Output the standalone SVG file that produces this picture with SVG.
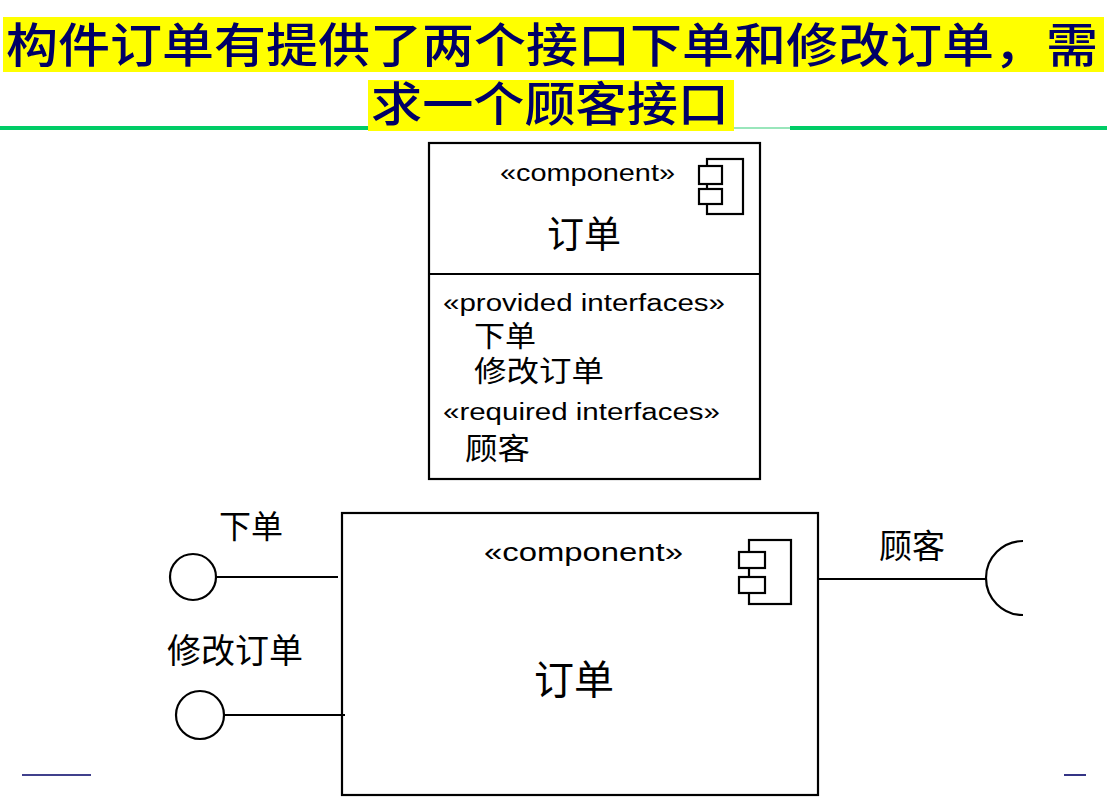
<svg xmlns="http://www.w3.org/2000/svg" width="1107" height="808" viewBox="0 0 1107 808">
<style>
.title{font-family:"Noto Sans CJK SC","Noto Sans CJK TC",sans-serif;font-size:47px;font-weight:500;fill:#000066}
.box{fill:#ffffff;stroke:#000000;stroke-width:2.2}
.ln{stroke:#000000;stroke-width:2.2;fill:none}
.en{font-family:"Liberation Sans",Arial,sans-serif;fill:#000000}
.cn{font-family:"Noto Sans CJK SC","Noto Sans CJK TC",sans-serif;fill:#000000}
.navy{stroke:#000066;stroke-width:1.6}
</style>
<rect width="1107" height="808" fill="#ffffff"/>
<g id="title">
<rect x="3" y="17" width="1101" height="55" fill="#ffff00"/>
<rect x="368" y="80" width="366" height="51" fill="#ffff00"/>
<line x1="0" y1="128" x2="368" y2="128" stroke="#00cc66" stroke-width="4"/>
<line x1="734" y1="128" x2="790" y2="128" stroke="#99e6bb" stroke-width="2"/>
<line x1="790" y1="128" x2="1107" y2="128" stroke="#00cc66" stroke-width="4"/>
<text class="title" x="6" y="62" textLength="1092" lengthAdjust="spacingAndGlyphs">构件订单有提供了两个接口下单和修改订单，需</text>
<text class="title" x="371" y="121" textLength="358" lengthAdjust="spacingAndGlyphs">求一个顾客接口</text>
</g>
<g id="component-spec">
<rect class="box" x="429" y="143" width="331" height="336"/>
<line class="ln" x1="429" y1="274" x2="760" y2="274"/>
<rect class="box" x="707" y="159" width="36" height="55"/>
<rect class="box" x="699" y="166" width="23" height="18"/>
<rect class="box" x="699" y="189" width="23" height="15"/>
<text class="en" x="500" y="181" font-size="23" textLength="175" lengthAdjust="spacingAndGlyphs">«component»</text>
<text class="cn" x="584" y="248" font-size="37" text-anchor="middle">订单</text>
<text class="en" x="443" y="311" font-size="23" textLength="282" lengthAdjust="spacingAndGlyphs">«provided interfaces»</text>
<text class="cn" x="474" y="347" font-size="29" textLength="62" lengthAdjust="spacingAndGlyphs">下单</text>
<text class="cn" x="474" y="382" font-size="29" textLength="130" lengthAdjust="spacingAndGlyphs">修改订单</text>
<text class="en" x="443" y="420" font-size="23" textLength="277" lengthAdjust="spacingAndGlyphs">«required interfaces»</text>
<text class="cn" x="465" y="459" font-size="30" textLength="65" lengthAdjust="spacingAndGlyphs">顾客</text>
</g>
<g id="component-order">
<rect class="box" x="342" y="513" width="476" height="282"/>
<rect class="box" x="749" y="540" width="42" height="64"/>
<rect class="box" x="739" y="552" width="26" height="16"/>
<rect class="box" x="739" y="577" width="26" height="16"/>
<text class="en" x="484" y="561" font-size="25" textLength="199" lengthAdjust="spacingAndGlyphs">«component»</text>
<text class="cn" x="574" y="694" font-size="40" text-anchor="middle">订单</text>
</g>
<g id="iface-xiadan">
<circle class="ln" cx="193" cy="577" r="23"/>
<text class="cn" x="219" y="538" font-size="32">下单</text>
</g>
<g id="iface-xiugai">
<circle class="ln" cx="200" cy="715" r="24"/>
<text class="cn" x="167" y="663" font-size="34">修改订单</text>
</g>
<g id="iface-guke">
<path class="ln" d="M1023,541 A37,37 0 0 0 1023,615"/>
<text class="cn" x="879" y="558" font-size="33">顾客</text>
</g>
<g id="connectors">
<line class="ln" x1="216" y1="577" x2="338" y2="577"/>
<line class="ln" x1="224" y1="715" x2="345" y2="715"/>
<line class="ln" x1="818" y1="579" x2="987" y2="579"/>
</g>
<g id="footer">
<line class="navy" x1="22" y1="775" x2="91" y2="775"/>
<line class="navy" x1="1064" y1="775" x2="1086" y2="775"/>
</g>
</svg>
